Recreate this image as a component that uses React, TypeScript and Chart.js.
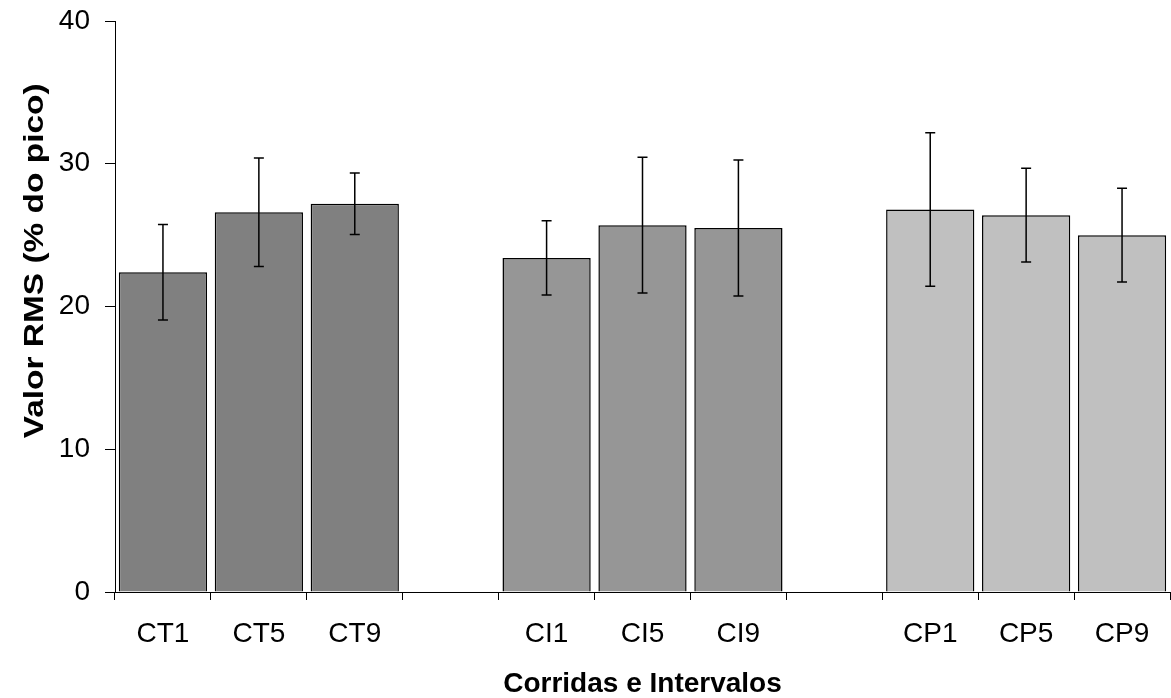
import React, { useEffect, useRef } from "react";
import { Chart, registerables } from "chart.js";

Chart.register(...registerables);

const categories = ["CT1", "CT5", "CT9", "", "CI1", "CI5", "CI9", "", "CP1", "CP5", "CP9"];
const meanValues = [22.4, 26.6, 27.2, null, 23.4, 25.7, 25.5, null, 26.8, 26.4, 25.0];
const errorValues = [3.35, 3.8, 2.15, null, 2.6, 4.75, 4.77, null, 5.38, 3.28, 3.29];
const barColors = ["#808080", "#808080", "#808080", "#ffffff", "#969696", "#969696", "#969696", "#ffffff", "#c0c0c0", "#c0c0c0", "#c0c0c0"];
const yTicks = [0, 10, 20, 30, 40];
const xTitle = "Corridas e Intervalos";
const yTitle = "Valor RMS (% do pico)";

const FONT = "'Liberation Sans', Arial, sans-serif";

const errorBarPlugin = {
  id: "errorBars",
  afterDatasetsDraw(chart: any) {
    const xs = chart.scales.x;
    const ys = chart.scales.y;
    const ctx = chart.ctx;
    ctx.save();
    ctx.strokeStyle = "#000";
    ctx.lineWidth = 1.5;
    meanValues.forEach((m, i) => {
      const e = errorValues[i];
      if (m == null || e == null) return;
      const x = xs.getPixelForValue(i);
      const yt = ys.getPixelForValue(m + e);
      const yb = ys.getPixelForValue(m - e);
      const cw = 5;
      ctx.beginPath();
      ctx.moveTo(x, yt);
      ctx.lineTo(x, yb);
      ctx.moveTo(x - cw, yt);
      ctx.lineTo(x + cw, yt);
      ctx.moveTo(x - cw, yb);
      ctx.lineTo(x + cw, yb);
      ctx.stroke();
    });
    ctx.restore();
  },
};

const yTitlePlugin = {
  id: "yTitle",
  afterDraw(chart: any) {
    const ctx = chart.ctx;
    const area = chart.chartArea;
    const cy = area.top + (area.bottom - area.top) * 0.42;
    ctx.save();
    ctx.font = `bold 28px ${FONT}`;
    ctx.fillStyle = "#000";
    ctx.textAlign = "center";
    ctx.textBaseline = "alphabetic";
    const w = ctx.measureText(yTitle).width;
    const sx = 355 / w;
    ctx.translate(43, cy);
    ctx.rotate(-Math.PI / 2);
    ctx.scale(sx, 1);
    ctx.fillText(yTitle, 0, 0);
    ctx.restore();
  },
};

export default function App() {
  const ref = useRef<HTMLCanvasElement>(null);
  useEffect(() => {
    document.body.style.margin = "0";
    const canvas = ref.current!;
    const chart = new Chart(canvas, {
      type: "bar",
      data: {
        labels: categories,
        datasets: [
          {
            data: meanValues as any,
            backgroundColor: barColors,
            borderColor: "#000",
            borderWidth: 1.5,
            barPercentage: 0.92,
            categoryPercentage: 1,
          },
        ],
      },
      options: {
        animation: false,
        responsive: false,
        devicePixelRatio: 1,
        layout: { padding: { top: 21, right: 1, left: 0, bottom: 0 } },
        plugins: { legend: { display: false }, tooltip: { enabled: false } },
        scales: {
          x: {
            type: "category",
            afterFit(scale: any) {
              scale.height = 106;
              scale.paddingLeft = 0;
              scale.paddingRight = 0;
            },
            grid: {
              display: true,
              drawOnChartArea: false,
              drawTicks: true,
              tickLength: 8,
              color: "#000",
              offset: true,
            },
            border: { display: true, color: "#000", width: 1 },
            ticks: {
              color: "#000",
              font: { family: FONT, size: 28 },
              padding: 17,
              maxRotation: 0,
              autoSkip: false,
            },
            title: {
              display: true,
              text: xTitle,
              color: "#000",
              font: { family: FONT, size: 28, weight: "bold" },
              padding: { top: 0, bottom: -3 },
            },
          },
          y: {
            min: 0,
            max: 40,
            afterFit(scale: any) {
              scale.width = 115;
              scale.paddingTop = 0;
              scale.paddingBottom = 0;
            },
            afterBuildTicks(scale: any) {
              scale.ticks = yTicks.map((v) => ({ value: v }));
            },
            grid: {
              display: true,
              drawOnChartArea: false,
              drawTicks: true,
              tickLength: 10,
              color: "#000",
            },
            border: { display: true, color: "#000", width: 1 },
            ticks: {
              color: "#000",
              font: { family: FONT, size: 28 },
              padding: 15,
              stepSize: 10,
            },
            title: { display: false },
          },
        },
      },
      plugins: [errorBarPlugin, yTitlePlugin],
    });
    return () => chart.destroy();
  }, []);
  return <canvas ref={ref} width={1171} height={698} style={{ display: "block", width: 1171, height: 698 }} />;
}
